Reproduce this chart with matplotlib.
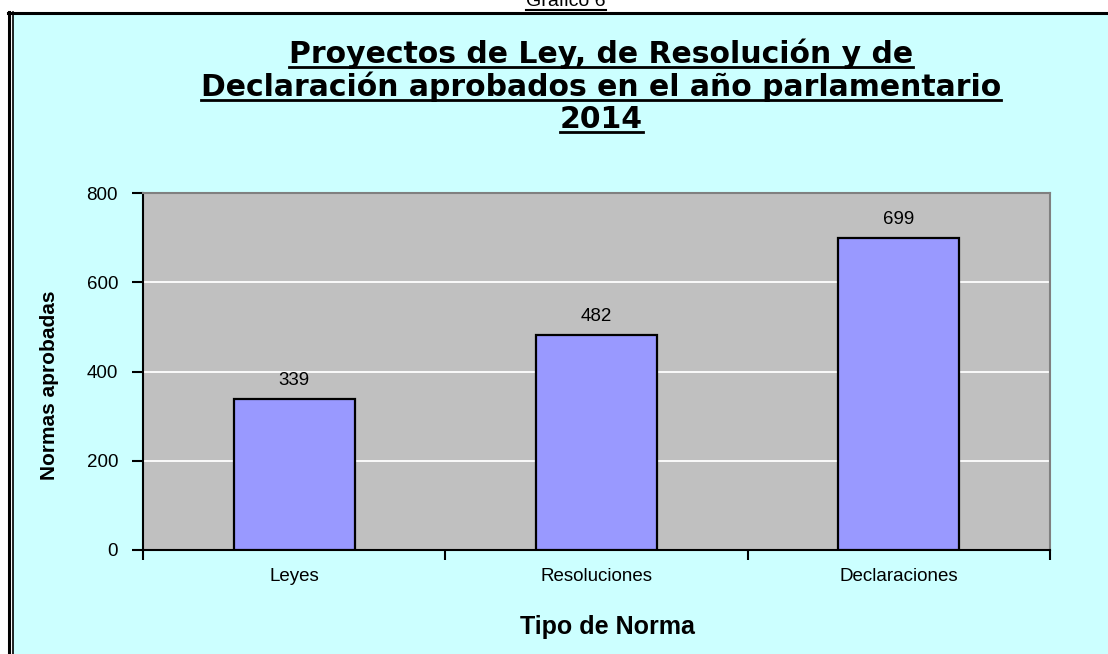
import matplotlib
matplotlib.use("Agg")
import matplotlib.pyplot as plt
from matplotlib.lines import Line2D
from matplotlib.patches import Rectangle

categories = ["Leyes", "Resoluciones", "Declaraciones"]
values = [339, 482, 699]
yticks = [0, 200, 400, 600, 800]
title_lines = ["Proyectos de Ley, de Resolución y de",
               "Declaración aprobados en el año parlamentario",
               "2014"]

W, H = 1108, 654
fig = plt.figure(figsize=(W / 100, H / 100), dpi=100, facecolor="white")

def fx(px):
    return px / W

def fy(py):
    return 1 - py / H

# chart area background
bg = Rectangle((fx(13), 0), 1, fy(14), transform=fig.transFigure,
               facecolor="#CCFFFF", edgecolor="none", zorder=-5)
fig.patches.append(bg)
# borders
fig.add_artist(Line2D([fx(8), 1], [fy(12.5), fy(12.5)], color="black", lw=2.2))
fig.add_artist(Line2D([fx(9), fx(9)], [0, fy(12)], color="black", lw=2.2))
fig.add_artist(Line2D([fx(12.5), fx(12.5)], [0, fy(12)], color="black", lw=1.2))

# "Gráfico 6" (cropped at top as in the source)
g = fig.text(fx(566), fy(6), "Gráfico 6", ha="center", va="baseline",
             fontsize=14, family="Liberation Sans")

ax = fig.add_axes([fx(143), fy(550), fx(1050) - fx(143), fy(193) - fy(550)])
ax.set_facecolor("#C0C0C0")
x = list(range(len(categories)))
bars = ax.bar(x, values, width=0.4, color="#9999FF", edgecolor="black",
              linewidth=1.6, zorder=3)
ax.set_xlim(-0.5, len(categories) - 0.5)
ax.set_ylim(0, 800)
ax.set_yticks(yticks)
ax.set_yticklabels([str(v) for v in yticks], family="Liberation Sans", fontsize=13.5)
for v in yticks[1:-1]:
    ax.axhline(v, color="white", lw=1.3, zorder=1)

ax.set_xticks([i - 0.5 for i in range(len(categories) + 1)])
ax.set_xticklabels([])
ax.set_xticks(x, minor=True)
ax.set_xticklabels(categories, minor=True, family="Liberation Sans", fontsize=13.5)
ax.tick_params(axis="x", which="major", direction="out", length=7, width=1.5)
ax.tick_params(axis="x", which="minor", length=0, pad=13)
ax.tick_params(axis="y", direction="out", length=8, width=1.5, pad=10)

for s in ["left", "bottom"]:
    ax.spines[s].set_color("black")
    ax.spines[s].set_linewidth(1.5)
for s in ["top", "right"]:
    ax.spines[s].set_color("#808080")
    ax.spines[s].set_linewidth(1.5)

for xi, v in zip(x, values):
    ax.annotate(str(v), (xi, v), xytext=(0, 7), textcoords="offset points",
                ha="center", va="bottom", family="Liberation Sans", fontsize=13.5)

ax.set_ylabel("Normas aprobadas", family="Liberation Sans",
              fontweight="bold", fontsize=15)
ax.yaxis.set_label_coords((59 - 143) / 907, (550 - 385) / 357)
ax.set_xlabel("Tipo de Norma", family="Liberation Sans", fontweight="bold",
              fontsize=18)
ax.xaxis.set_label_coords((607 - 143) / 907, -(627 - 550) / 357)
ax.xaxis.label.set_va("center")

# title lines
title_y = [63, 96, 128]
texts = []
for line, ty in zip(title_lines, title_y):
    t = fig.text(fx(601), fy(ty), line, ha="center", va="baseline",
                 family="DejaVu Sans", fontweight="bold", fontsize=21.5)
    texts.append(t)

fig.canvas.draw()
r = fig.canvas.get_renderer()
for t, ty in zip(texts, title_y):
    bb = t.get_window_extent(r).transformed(fig.transFigure.inverted())
    yline = fy(ty + 4)
    fig.add_artist(Line2D([bb.x0, bb.x1], [yline, yline], color="black", lw=2))
bb = g.get_window_extent(r).transformed(fig.transFigure.inverted())
fig.add_artist(Line2D([bb.x0, bb.x1], [fy(10), fy(10)], color="black", lw=1.5))

fig.savefig("out.png", dpi=100, facecolor="white")
